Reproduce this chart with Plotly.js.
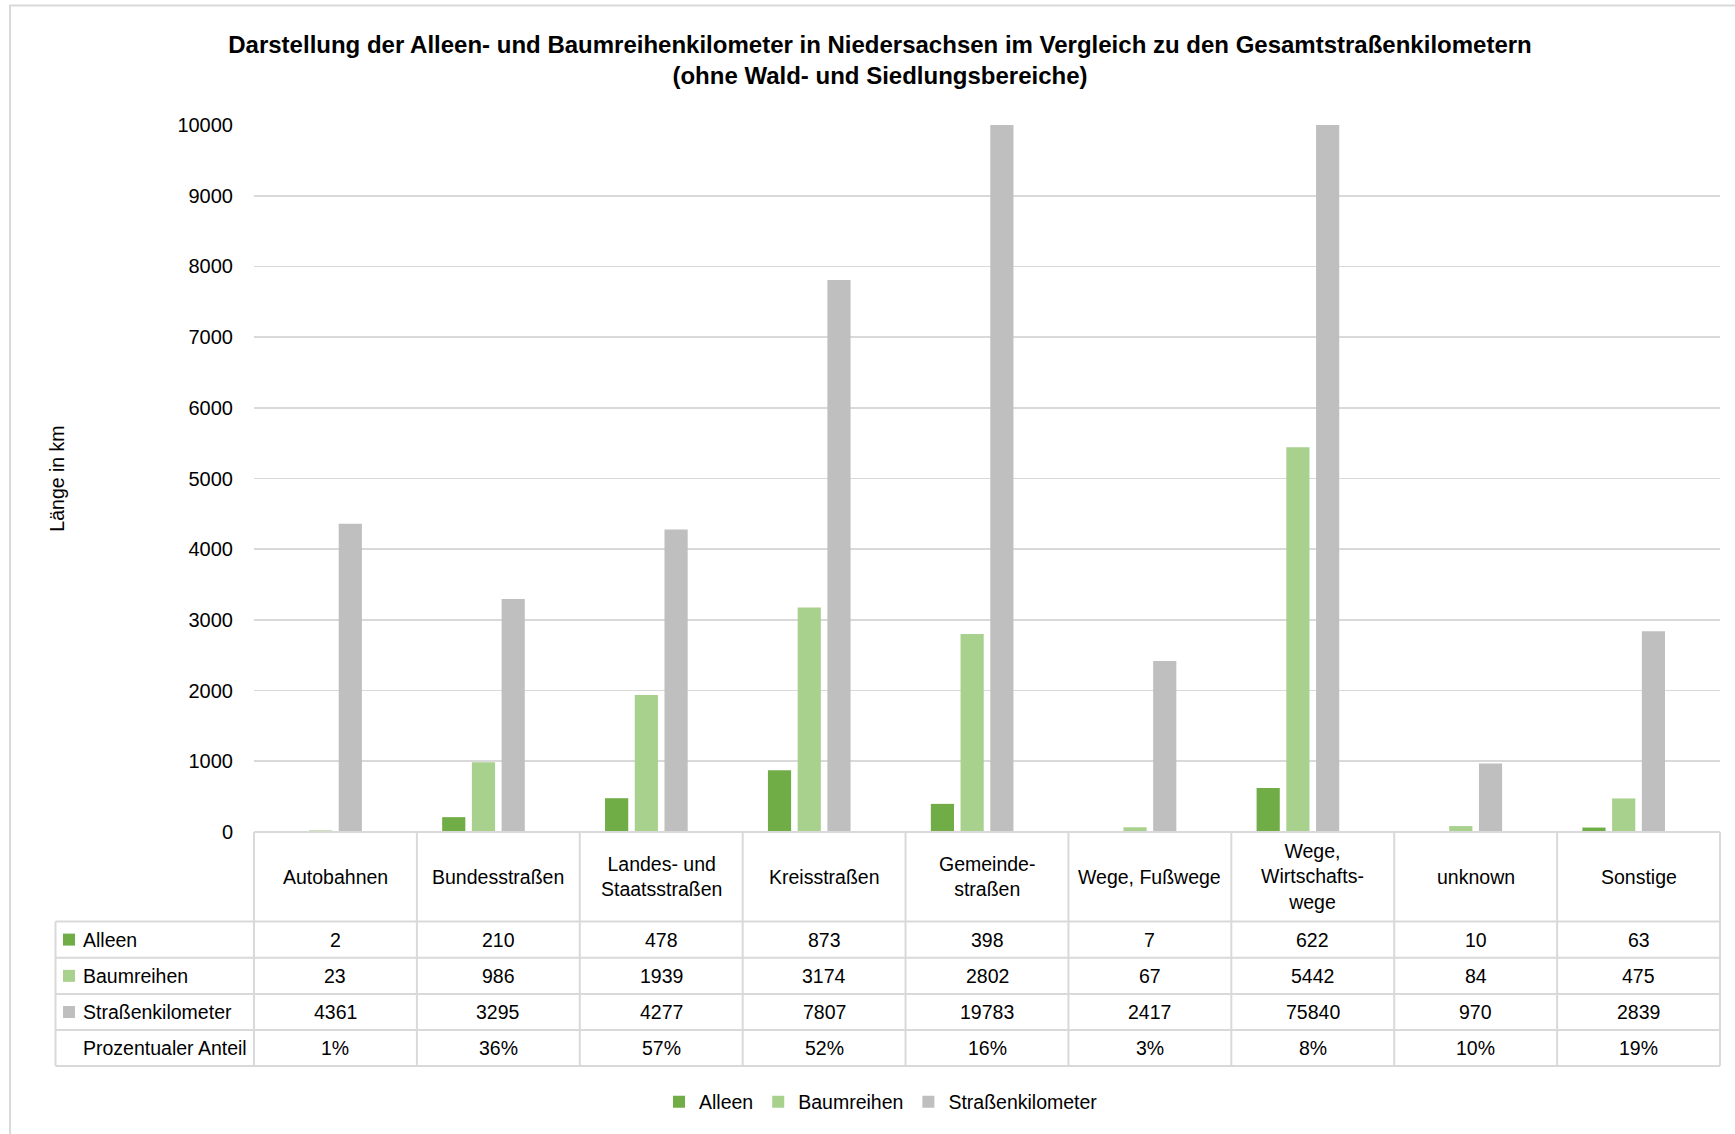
<!DOCTYPE html>
<html>
<head>
<meta charset="utf-8">
<script src="https://cdn.plot.ly/plotly-3.0.1.min.js"></script>
<style>
  html, body { margin: 0; padding: 0; background: #ffffff; }
  #chart { width: 1735px; height: 1134px; }
</style>
</head>
<body>
<div id="chart"></div>
<script>
// ---------- data ----------
const categories = ["Autobahnen", "Bundesstraßen", "Landes- und Staatsstraßen", "Kreisstraßen",
  "Gemeindestraßen", "Wege, Fußwege", "Wege, Wirtschaftswege", "unknown", "Sonstige"];
const categoryLabels = ["Autobahnen", "Bundesstraßen", "Landes- und<br>Staatsstraßen", "Kreisstraßen",
  "Gemeinde-<br>straßen", "Wege, Fußwege", "Wege,<br>Wirtschafts-<br>wege", "unknown", "Sonstige"];
const alleen = [2, 210, 478, 873, 398, 7, 622, 10, 63];
const baumreihen = [23, 986, 1939, 3174, 2802, 67, 5442, 84, 475];
const strassenkm = [4361, 3295, 4277, 7807, 19783, 2417, 75840, 970, 2839];
const anteilProzent = [1, 36, 57, 52, 16, 3, 8, 10, 19];
const yTicks = [0, 1000, 2000, 3000, 4000, 5000, 6000, 7000, 8000, 9000, 10000];

// ---------- styling / geometry ----------
const W = 1735, H = 1134;
const ML = 254, MR = 15, MT = 125, MB = 302;
const PW = W - ML - MR, PH = H - MT - MB;
const FONT = "Liberation Sans, Arial, sans-serif";
const cGreen = "#70AD47", cLight = "#A9D18E", cGray = "#BFBFBF", cLine = "#D9D9D9";
const px2x = p => (p - ML) / PW;          // pixel -> paper x
const py2y = p => (H - MB - p) / PH;      // pixel -> paper y

const tableLeftPx = 55.5;
const rowEdgesPx = [921.5, 957.7, 994, 1030, 1066];
const headerCenterPx = (H - MB + rowEdgesPx[0]) / 2;

const traces = [
  { type: "bar", name: "Alleen", x: categories, y: alleen, marker: { color: cGreen } },
  { type: "bar", name: "Baumreihen", x: categories, y: baumreihen, marker: { color: cLight } },
  { type: "bar", name: "Straßenkilometer", x: categories, y: strassenkm, marker: { color: cGray } },
  { type: "bar", name: "Prozentualer Anteil", x: categories, y: anteilProzent.map(v => v / 100),
    marker: { color: "rgba(0,0,0,0)" }, showlegend: false, hoverinfo: "skip" }
];

const shapes = [];
const annotations = [];
const lineStyle = { color: cLine, width: 2 };

// outer chart frame
shapes.push({ type: "rect", xref: "paper", yref: "paper", x0: px2x(10), x1: px2x(W + 10),
  y0: py2y(5.5), y1: py2y(H + 10), line: { color: cLine, width: 2 }, layer: "below" });

// table: horizontal lines
shapes.push({ type: "line", xref: "paper", yref: "paper", x0: 0, x1: 1, y0: 0, y1: 0, line: lineStyle });
rowEdgesPx.forEach(p => shapes.push({ type: "line", xref: "paper", yref: "paper",
  x0: px2x(tableLeftPx), x1: 1, y0: py2y(p), y1: py2y(p), line: lineStyle }));
// table: vertical lines
const yBottom = py2y(rowEdgesPx[rowEdgesPx.length - 1]);
shapes.push({ type: "line", xref: "paper", yref: "paper", x0: px2x(tableLeftPx), x1: px2x(tableLeftPx),
  y0: py2y(rowEdgesPx[0]), y1: yBottom, line: lineStyle });
shapes.push({ type: "line", xref: "paper", yref: "paper", x0: 0, x1: 0, y0: 0, y1: yBottom, line: lineStyle });
shapes.push({ type: "line", xref: "paper", yref: "paper", x0: 1, x1: 1, y0: 0, y1: yBottom, line: lineStyle });
for (let i = 0; i < categories.length - 1; i++) {
  shapes.push({ type: "line", xref: "x", yref: "paper", x0: i + 0.5, x1: i + 0.5, y0: 0, y1: yBottom, line: lineStyle });
}

// table: header labels
const txtFont = { family: FONT, size: 19.5, color: "#000000" };
categories.forEach((c, i) => {
  annotations.push({ xref: "x", yref: "paper", x: c, y: py2y(headerCenterPx), text: categoryLabels[i],
    showarrow: false, xanchor: "center", yanchor: "middle", align: "center", font: txtFont });
});

// table: rows
const rows = [
  { label: "Alleen", color: cGreen, values: alleen.map(String) },
  { label: "Baumreihen", color: cLight, values: baumreihen.map(String) },
  { label: "Straßenkilometer", color: cGray, values: strassenkm.map(String) },
  { label: "Prozentualer Anteil", color: null, values: anteilProzent.map(v => v + "%") }
];
rows.forEach((r, k) => {
  const cy = (rowEdgesPx[k] + rowEdgesPx[k + 1]) / 2;
  const yc = py2y(cy);
  annotations.push({ xref: "paper", yref: "paper", x: px2x(80.5), y: yc, text: r.label, showarrow: false,
    xanchor: "left", yanchor: "middle", font: txtFont });
  if (r.color) {
    shapes.push({ type: "rect", xref: "paper", yref: "paper", x0: px2x(63), x1: px2x(75),
      y0: py2y(cy - 6), y1: py2y(cy + 6), fillcolor: r.color, line: { width: 0 } });
  }
  r.values.forEach((v, i) => {
    annotations.push({ xref: "x", yref: "paper", x: categories[i], y: yc, text: v, showarrow: false,
      xanchor: "center", yanchor: "middle", font: txtFont });
  });
});

const layout = {
  width: W, height: H,
  margin: { l: ML, r: MR, t: MT, b: MB },
  paper_bgcolor: "#ffffff", plot_bgcolor: "#ffffff",
  font: { family: FONT, color: "#000000" },
  title: {
    text: "<b>Darstellung der Alleen- und Baumreihenkilometer in Niedersachsen im Vergleich zu den Gesamtstraßenkilometern</b><br><b>(ohne Wald- und Siedlungsbereiche)</b>",
    font: { family: FONT, size: 24, color: "#000000" },
    xref: "container", x: 880 / W, xanchor: "center",
    yref: "container", y: 1 - 53 / H, yanchor: "middle"
  },
  barmode: "group", bargap: 0.27, bargroupgap: 0.22,
  xaxis: { type: "category", categoryorder: "array", categoryarray: categories,
    showticklabels: false, ticks: "", showgrid: false, zeroline: false, showline: false,
    range: [-0.5, categories.length - 0.5], fixedrange: true },
  yaxis: { range: [0, 10000], tickvals: yTicks, ticktext: yTicks.map(String), showgrid: true,
    gridcolor: cLine, gridwidth: 1.6, zeroline: false, showline: false, ticks: "",
    ticklabelstandoff: 20, tickfont: { family: FONT, size: 20, color: "#000000" },
    title: { text: "Länge in km", font: { family: FONT, size: 19.5, color: "#000000" }, standoff: 107 },
    automargin: false, fixedrange: true },
  legend: { orientation: "h", xref: "container", yref: "container", x: 881 / W, xanchor: "center",
    y: (H - 1102) / H, yanchor: "middle", font: { family: FONT, size: 19.5, color: "#000000" },
    traceorder: "normal", itemclick: false },
  shapes: shapes,
  annotations: annotations,
  showlegend: true
};

Plotly.newPlot("chart", traces, layout, { displayModeBar: false, staticPlot: true });
</script>
</body>
</html>
